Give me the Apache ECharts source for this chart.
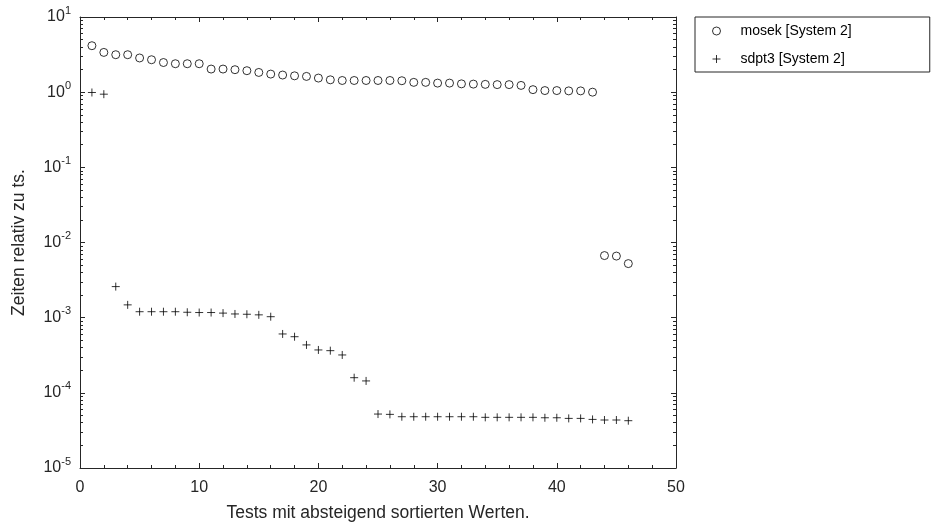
<!DOCTYPE html>
<html>
<head>
<meta charset="utf-8">
<script src="https://cdn.jsdelivr.net/npm/echarts@6/dist/echarts.min.js"></script>
<style>
  html, body { margin: 0; padding: 0; background: #fff; }
  #chart { width: 931px; height: 528px; }
</style>
</head>
<body>
<div id="chart"></div>
<script>
// Testnummern (x) und relative Zeiten (y, log)
const tests = [1, 2, 3, 4, 5, 6, 7, 8, 9, 10, 11, 12, 13, 14, 15, 16, 17, 18, 19, 20, 21, 22, 23,
  24, 25, 26, 27, 28, 29, 30, 31, 32, 33, 34, 35, 36, 37, 38, 39, 40, 41, 42, 43, 44, 45, 46];

const mosek = [4.15, 3.38, 3.15, 3.15, 2.85, 2.70, 2.48, 2.39, 2.39, 2.39, 2.03, 2.03, 1.99, 1.93,
  1.83, 1.74, 1.69, 1.65, 1.62, 1.54, 1.46, 1.43, 1.43, 1.43, 1.43, 1.43, 1.42, 1.35, 1.35, 1.32,
  1.32, 1.29, 1.28, 1.27, 1.26, 1.26, 1.23, 1.08, 1.05, 1.05, 1.04, 1.04, 1.00, 0.0067, 0.0066, 0.00524];

const sdpt3 = [0.99, 0.94, 0.00259, 0.00148, 0.00120, 0.00120, 0.00120, 0.00120, 0.00118, 0.00117,
  0.00117, 0.00115, 0.00112, 0.00111, 0.00109, 0.00103, 6.07e-4, 5.58e-4, 4.34e-4, 3.72e-4, 3.64e-4,
  3.19e-4, 1.59e-4, 1.44e-4, 5.22e-5, 5.17e-5, 4.81e-5, 4.81e-5, 4.81e-5, 4.81e-5, 4.81e-5, 4.81e-5,
  4.81e-5, 4.72e-5, 4.72e-5, 4.72e-5, 4.72e-5, 4.72e-5, 4.66e-5, 4.66e-5, 4.57e-5, 4.57e-5, 4.43e-5,
  4.35e-5, 4.35e-5, 4.26e-5];

const seriesNames = ["mosek [System 2]", "sdpt3 [System 2]"];
const xTicks = [0, 10, 20, 30, 40, 50];
const yMajor = [1e-5, 1e-4, 1e-3, 1e-2, 1e-1, 1e0, 1e1];
const yMinorFactors = [2, 3, 4, 5, 6, 7, 8, 9];

const AX = "#262626";
const FONT = "Liberation Sans, Arial, Helvetica, sans-serif";
const plusPath = "path://M5,0L5,10M0,5L10,5";

// kleine Striche pro Dekade (2..9)
const yMinor = [];
yMajor.slice(0, -1).forEach((d) => {
  yMinorFactors.forEach((f) => yMinor.push(+(d * f).toPrecision(3)));
});

const pairs = (ys) => ys.map((v, i) => [tests[i], v]);

const logAxis = (position, extra) => Object.assign({
  type: "log",
  logBase: 10,
  min: 1e-5,
  max: 10,
  position: position,
  axisLine: { show: true, lineStyle: { color: AX, width: 1 } },
  axisTick: { show: true, inside: true, length: 5, lineStyle: { color: AX } },
  axisLabel: { show: false },
  splitLine: { show: false },
}, extra);

const markerStyle = { color: "rgba(0,0,0,0)", borderColor: "#000", borderWidth: 1 };

const myChart = echarts.init(document.getElementById("chart"));

const option = {
  backgroundColor: "#fff",
  animation: false,
  textStyle: { fontFamily: FONT },
  grid: { left: 80, right: 255, top: 17, bottom: 60 },
  legend: {
    left: 695,
    top: 17,
    orient: "vertical",
    borderColor: AX,
    borderWidth: 1,
    borderRadius: 0,
    padding: [7, 78, 6, 17],
    itemGap: 14,
    itemWidth: 38,
    itemHeight: 8,
    symbolKeepAspect: true,
    itemStyle: markerStyle,
    textStyle: { fontSize: 14, color: "#000", fontFamily: FONT },
    data: [
      { name: seriesNames[0], icon: "circle", itemStyle: markerStyle },
      { name: seriesNames[1], icon: plusPath, itemStyle: markerStyle },
    ],
  },
  xAxis: [
    {
      type: "value",
      min: 0,
      max: 50,
      interval: 10,
      position: "bottom",
      name: "Tests mit absteigend sortierten Werten.",
      nameLocation: "middle",
      nameGap: 36,
      nameTextStyle: { fontSize: 17.5, color: AX, fontFamily: FONT },
      axisLine: { show: true, lineStyle: { color: AX } },
      axisTick: { show: true, inside: true, length: 5, lineStyle: { color: AX } },
      minorTick: { show: true, splitNumber: 5, length: 3, lineStyle: { color: AX } },
      axisLabel: { fontSize: 16, color: AX, margin: 12, fontFamily: FONT,
        customValues: xTicks },
      splitLine: { show: false },
    },
    {
      type: "value",
      min: 0,
      max: 50,
      interval: 10,
      position: "top",
      axisLine: { show: true, lineStyle: { color: AX } },
      axisTick: { show: true, inside: true, length: 5, lineStyle: { color: AX } },
      minorTick: { show: true, splitNumber: 5, length: 3, lineStyle: { color: AX } },
      axisLabel: { show: false },
      splitLine: { show: false },
    },
  ],
  yAxis: [
    logAxis("left", {
      name: "Zeiten relativ zu ts.",
      nameLocation: "middle",
      nameGap: 52,
      nameRotate: 90,
      nameTextStyle: { fontSize: 17.5, color: AX, fontFamily: FONT },
      axisTick: { show: true, inside: true, length: 5, lineStyle: { color: AX },
        customValues: yMajor },
      axisLabel: {
        show: true,
        margin: 9,
        customValues: yMajor,
        formatter: (v) => "{b|10}{s|" + Math.round(Math.log10(v)) + "}",
        rich: {
          b: { fontSize: 16, color: AX, fontFamily: FONT },
          s: { fontSize: 11, color: AX, fontFamily: FONT, padding: [0, 0, 13, 0] },
        },
      },
    }),
    logAxis("left", {
      axisLine: { show: false },
      axisTick: { show: true, inside: true, length: 3, lineStyle: { color: AX },
        customValues: yMinor },
    }),
    logAxis("right", {
      axisTick: { show: true, inside: true, length: 5, lineStyle: { color: AX },
        customValues: yMajor },
    }),
    logAxis("right", {
      axisLine: { show: false },
      axisTick: { show: true, inside: true, length: 3, lineStyle: { color: AX },
        customValues: yMinor },
    }),
  ],
  series: [
    {
      name: seriesNames[0],
      type: "scatter",
      xAxisIndex: 0,
      yAxisIndex: 0,
      symbol: "circle",
      symbolSize: 8,
      itemStyle: markerStyle,
      data: pairs(mosek),
    },
    {
      name: seriesNames[1],
      type: "scatter",
      xAxisIndex: 0,
      yAxisIndex: 0,
      symbol: plusPath,
      symbolSize: 8,
      itemStyle: markerStyle,
      data: pairs(sdpt3),
    },
  ],
};

myChart.setOption(option);
</script>
</body>
</html>
